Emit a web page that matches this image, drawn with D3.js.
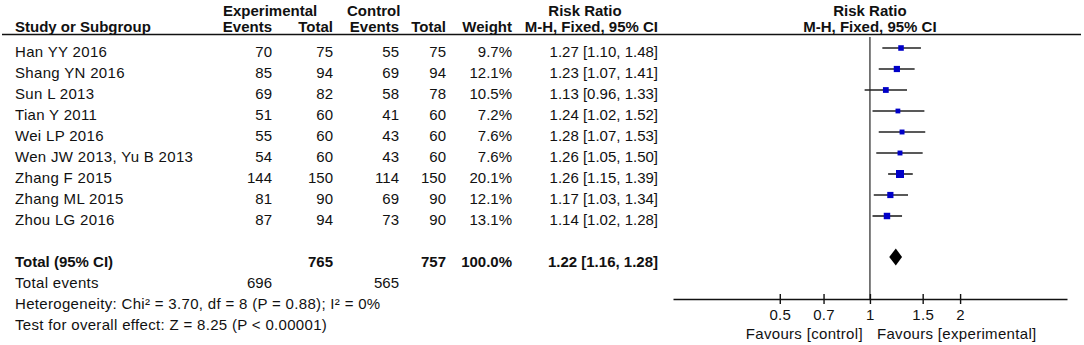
<!DOCTYPE html>
<html>
<head>
<meta charset="utf-8">
<script src="https://cdn.jsdelivr.net/npm/d3@7"></script>
<style>
  html, body { margin: 0; padding: 0; background: #fff; }
  svg { display: block; }
  text { font-family: "Liberation Sans", Arial, sans-serif; font-size: 15px; fill: #111; }
  .b { font-weight: bold; }
  .sp { letter-spacing: 0.32px; }
</style>
</head>
<body>
<svg id="chart" width="1084" height="345"></svg>
<script>
// ---- data ----
const studies = ["Han YY 2016", "Shang YN 2016", "Sun L 2013", "Tian Y 2011", "Wei LP 2016",
  "Wen JW 2013, Yu B 2013", "Zhang F 2015", "Zhang ML 2015", "Zhou LG 2016"];
const expEvents = [70, 85, 69, 51, 55, 54, 144, 81, 87];
const expTotal = [75, 94, 82, 60, 60, 60, 150, 90, 94];
const ctrlEvents = [55, 69, 58, 41, 43, 43, 114, 69, 73];
const ctrlTotal = [75, 94, 78, 60, 60, 60, 150, 90, 90];
const weights = [9.7, 12.1, 10.5, 7.2, 7.6, 7.6, 20.1, 12.1, 13.1];
const rr = [1.27, 1.23, 1.13, 1.24, 1.28, 1.26, 1.26, 1.17, 1.14];
const rrLow = [1.10, 1.07, 0.96, 1.02, 1.07, 1.05, 1.15, 1.03, 1.02];
const rrHigh = [1.48, 1.41, 1.33, 1.52, 1.53, 1.50, 1.39, 1.34, 1.28];
const totalCounts = [765, 757];          // exp total, control total
const totalEvents = [696, 565];          // exp events, control events
const totalWeight = "100.0%";
const totalRR = [1.22, 1.16, 1.28];      // estimate, low, high
const heterogeneity = "Heterogeneity: Chi\u00B2 = 3.70, df = 8 (P = 0.88); I\u00B2 = 0%";
const overallTest = "Test for overall effect: Z = 8.25 (P < 0.00001)";
const tickValues = [0.5, 0.7, 1, 1.5, 2];
const favourLabels = ["Favours [control]", "Favours [experimental]"];

// ---- layout ----
const svg = d3.select("#chart");
const fmt2 = d3.format(".2f");
const rowY = d3.scaleLinear().domain([0, 1]).range([52, 73]);   // text centre of a row
const x = d3.scaleLog().domain([0.22, 4.55]).range([673, 1067]);
const sq = d3.scaleSqrt().domain([0, 20.1]).range([0, 8]);

const col = { name: 15, ee: 272, et: 333, ce: 399, ct: 446, w: 512, rr: 658 };
function txt(xp, yp, s, anchor, cls) {
  return svg.append("text").attr("x", xp).attr("y", yp).attr("text-anchor", anchor || "start")
    .attr("class", cls || null).text(s);
}

// headers
txt(223, 16, "Experimental", "start", "b");
txt(347, 16, "Control", "start", "b");
txt(585, 16, "Risk Ratio", "middle", "b");
txt(x(1), 16, "Risk Ratio", "middle", "b");
txt(col.name, 32, "Study or Subgroup", "start", "b");
txt(col.ee, 32, "Events", "end", "b");
txt(col.et, 32, "Total", "end", "b");
txt(col.ce, 32, "Events", "end", "b");
txt(col.ct, 32, "Total", "end", "b");
txt(col.w, 32, "Weight", "end", "b");
txt(col.rr, 32, "M-H, Fixed, 95% CI", "end", "b");
txt(x(1), 32, "M-H, Fixed, 95% CI", "middle", "b");
svg.append("line").attr("x1", 2).attr("x2", 1081).attr("y1", 34.5).attr("y2", 34.5)
  .attr("stroke", "#111").attr("stroke-width", 1.5);

// study rows
studies.forEach((s, i) => {
  const yb = rowY(i) + 5.3;
  txt(col.name, yb, s, "start", "sp");
  txt(col.ee, yb, expEvents[i], "end");
  txt(col.et, yb, expTotal[i], "end");
  txt(col.ce, yb, ctrlEvents[i], "end");
  txt(col.ct, yb, ctrlTotal[i], "end");
  txt(col.w, yb, weights[i].toFixed(1) + "%", "end");
  txt(col.rr, yb, `${fmt2(rr[i])} [${fmt2(rrLow[i])}, ${fmt2(rrHigh[i])}]`, "end");
});

// total rows
const ti = 10;
txt(col.name, rowY(ti) + 5.3, "Total (95% CI)", "start", "b");
txt(col.et, rowY(ti) + 5.3, totalCounts[0], "end", "b");
txt(col.ct, rowY(ti) + 5.3, totalCounts[1], "end", "b");
txt(col.w, rowY(ti) + 5.3, totalWeight, "end", "b");
txt(col.rr, rowY(ti) + 5.3, `${fmt2(totalRR[0])} [${fmt2(totalRR[1])}, ${fmt2(totalRR[2])}]`, "end", "b");
txt(col.name, rowY(11) + 5.3, "Total events", "start", "sp");
txt(col.ee, rowY(11) + 5.3, totalEvents[0], "end");
txt(col.ce, rowY(11) + 5.3, totalEvents[1], "end");
txt(col.name, rowY(12) + 5.3, heterogeneity, "start", "sp");
txt(col.name, rowY(13) + 5.3, overallTest, "start", "sp");

// forest plot
const axisY = 299;
svg.append("line").attr("x1", x(1)).attr("x2", x(1)).attr("y1", 37).attr("y2", axisY)
  .attr("stroke", "#444").attr("stroke-width", 1.4);

const g = svg.append("g");
studies.forEach((s, i) => {
  const yc = rowY(i) - 4;
  g.append("line").attr("x1", x(rrLow[i])).attr("x2", x(rrHigh[i])).attr("y1", yc).attr("y2", yc)
    .attr("stroke", "#222").attr("stroke-width", 1.6);
  const side = sq(weights[i]);
  g.append("rect").attr("x", x(rr[i]) - side / 2).attr("y", yc - side / 2)
    .attr("width", side).attr("height", side).attr("fill", "#0000c8");
});

// diamond
const dy = rowY(ti) - 5;
svg.append("path")
  .attr("d", `M${x(totalRR[1])},${dy} L${x(totalRR[0])},${dy - 8.5} L${x(totalRR[2])},${dy} L${x(totalRR[0])},${dy + 8.5} Z`)
  .attr("fill", "#000");

// axis
const axis = d3.axisBottom(x).tickValues(tickValues).tickFormat(d3.format("")).tickSizeInner(5).tickSizeOuter(0);
const ag = svg.append("g").attr("transform", `translate(0,${axisY})`).call(axis);
ag.select(".domain").attr("stroke", "#111").attr("stroke-width", 1.4);
ag.selectAll(".tick line").attr("y1", -5).attr("y2", 5).attr("stroke", "#111").attr("stroke-width", 1.4);
ag.selectAll(".tick text").attr("y", 21).attr("dy", 0)
  .style("font-family", '"Liberation Sans", Arial, sans-serif').style("font-size", "15px")
  .style("letter-spacing", "0.3px").attr("fill", "#111");

txt(x(1) - 7, 339, favourLabels[0], "end", "sp");
txt(x(1) + 7, 339, favourLabels[1], "start", "sp");
</script>
</body>
</html>
